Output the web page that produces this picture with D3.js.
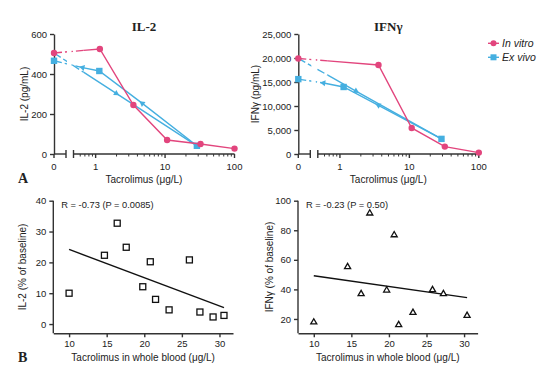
<!DOCTYPE html>
<html>
  <head>
    <meta charset="utf-8">
    <script src="https://d3js.org/d3.v7.min.js"></script>
    <style>
      body { margin: 0; background: white; }
      svg { display: block; }
      text { fill: #222; }
    </style>
  </head>
  <body>
    <svg id="chart" width="550" height="383"></svg>
  </body>
  <script>
    // ---- data (panel A) ----
    const vitroX_il2 = [0, 1.15, 3.5, 10.7, 32.4, 100];
    const vitroY_il2 = [505, 525, 245, 70, 50, 27];
    const exA_X_il2 = [0, 0.65, 1.13, 4.7, 28.7];
    const exA_Y_il2 = [466, 432, 415, 253, 41];
    const exA_shape = ["square", "tri", "square", "tri", "square"];
    const exB_X_il2 = [0, 1.98, 28.7];
    const exB_Y_il2 = [505, 303, 41];
    const exB_shape = ["none", "tri", "none"];

    const vitroX_ifn = [0, 3.59, 10.8, 32.4, 100];
    const vitroY_ifn = [19900, 18540, 5420, 1540, 290];
    const exA_X_ifn = [0, 0.58, 1.13, 3.59, 29];
    const exA_Y_ifn = [15600, 14800, 13960, 10150, 3150];
    const exB_X_ifn = [0, 1.7, 29];
    const exB_Y_ifn = [19900, 13100, 3150];

    const logTicks = [1, 10, 100];

    // ---- data (panel B) ----
    const bloodX_il2 = [10.0, 14.7, 16.4, 17.6, 19.8, 20.8, 21.5, 23.3, 26.0, 27.4, 29.15, 30.6];
    const pct_il2 = [10.0, 22.3, 32.7, 24.9, 12.1, 20.2, 8.0, 4.6, 20.8, 3.9, 2.3, 2.8];
    const bloodX_ifn = [10.0, 14.5, 16.3, 17.45, 19.7, 20.7, 21.3, 23.2, 25.8, 27.25, 30.4];
    const pct_ifn = [17.8, 55.2, 37.0, 91.5, 39.4, 76.8, 16.0, 24.3, 39.7, 37.0, 22.3];

    const pink = "#e2457d";
    const blue = "#45afe0";
    const axisCol = "#333";
    const sans = "Liberation Sans, Arial, sans-serif";
    const serif = "Liberation Serif, Times New Roman, serif";

    const svg = d3.select("#chart").style("font-family", sans);

    function styleAxis(g) {
      g.select(".domain").attr("stroke", axisCol).attr("stroke-width", 1.4);
      g.selectAll(".tick line").attr("stroke", axisCol).attr("stroke-width", 1.4);
      g.selectAll(".tick text").attr("font-size", 9.5).attr("fill", "#222").attr("font-family", sans);
    }

    // ---------- panel A (broken log axis) ----------
    function topPanel(ox, yMax, yStep, title, ylabel, vx, vy, ax, ay, bx, by, labelX) {
      const y0 = 154, yTop = 34;
      const y = d3.scaleLinear().domain([0, yMax]).range([y0, yTop]);
      const breakX = ox + 12, logStart = ox + 19.5;
      const xl = d3.scaleLog().domain([0.48, 100]).range([logStart, ox + 180.5]);
      const xs = v => v === 0 ? ox : xl(v);

      // y axis
      svg.append("g")
        .attr("transform", `translate(${ox},0)`)
        .call(d3.axisLeft(y).tickValues(d3.range(0, yMax + 1, yStep))
          .tickSize(4).tickSizeOuter(0).tickFormat(d3.format(",")))
        .call(styleAxis);

      // x axis: zero segment + break + log segment
      const xa = svg.append("g").attr("stroke", axisCol).attr("stroke-width", 1.4);
      xa.append("line").attr("x1", ox).attr("x2", breakX).attr("y1", y0).attr("y2", y0);
      xa.append("line").attr("x1", ox).attr("x2", ox).attr("y1", y0).attr("y2", y0 + 4);
      xa.append("line").attr("x1", breakX).attr("x2", breakX).attr("y1", y0 - 4).attr("y2", y0 + 4);
      xa.append("line").attr("x1", logStart).attr("x2", xl(100)).attr("y1", y0).attr("y2", y0);
      xa.append("line").attr("x1", logStart).attr("x2", logStart).attr("y1", y0 - 4).attr("y2", y0 + 4);
      const minor = [];
      [0.1, 1, 10].forEach(d => d3.range(2, 10).forEach(k => {
        const v = d * k;
        if (v > 0.5 && v < 100) minor.push(v);
      }));
      minor.forEach(v => xa.append("line").attr("x1", xl(v)).attr("x2", xl(v))
        .attr("y1", y0).attr("y2", y0 + 2.5).attr("stroke-width", 1));
      logTicks.forEach(v => xa.append("line").attr("x1", xl(v)).attr("x2", xl(v))
        .attr("y1", y0).attr("y2", y0 + 4));
      svg.append("text").attr("x", ox).attr("y", y0 + 16).attr("text-anchor", "middle")
        .attr("font-size", 9.5).text("0");
      logTicks.forEach(v => svg.append("text").attr("x", xl(v)).attr("y", y0 + 16)
        .attr("text-anchor", "middle").attr("font-size", 9.5).text(v));

      // clip that leaves a gap across the axis break
      const cid = "clip" + Math.round(ox);
      const cp = svg.append("clipPath").attr("id", cid);
      cp.append("rect").attr("x", 0).attr("y", 0).attr("width", breakX + 1).attr("height", 383);
      cp.append("rect").attr("x", logStart - 2).attr("y", 0).attr("width", 300).attr("height", 383);

      function series(xsArr, ysArr, shapes, col) {
        const pts = xsArr.map((v, i) => [xs(v), y(ysArr[i]), shapes[i]]);
        const line = d3.line();
        // segment leaving the zero point: dashed across the break, solid afterwards
        const a = pts[0], b = pts[1];
        const t = Math.min(1, (logStart + 10 - a[0]) / (b[0] - a[0]));
        const mid = [a[0] + (b[0] - a[0]) * t, a[1] + (b[1] - a[1]) * t];
        svg.append("path").attr("d", line([a, mid])).attr("fill", "none")
          .attr("stroke", col).attr("stroke-width", 1.4).attr("stroke-dasharray", "8,3")
          .attr("clip-path", `url(#${cid})`);
        svg.append("path").attr("d", line([mid].concat(pts.slice(1)))).attr("fill", "none")
          .attr("stroke", col).attr("stroke-width", 1.4);
        pts.forEach((p, i) => {
          if (p[2] === "circle") {
            svg.append("circle").attr("cx", p[0]).attr("cy", p[1]).attr("r", 3.2).attr("fill", col);
          } else if (p[2] === "square") {
            svg.append("rect").attr("x", p[0] - 3.2).attr("y", p[1] - 3.2)
              .attr("width", 6.4).attr("height", 6.4).attr("fill", col);
          } else if (p[2] === "tri" || p[2] === "triR") {
            const q = p[2] === "tri" ? pts[i - 1] : pts[i + 1];
            const ang = Math.atan2(q[1] - p[1], q[0] - p[0]) * 180 / Math.PI + 90;
            svg.append("path").attr("d", d3.symbol(d3.symbolTriangle, 16)())
              .attr("transform", `translate(${p[0]},${p[1]}) rotate(${ang})`).attr("fill", col);
          }
        });
      }

      series(bx, by, exB_shape.map(s => s === "tri" ? "triR" : s), blue);
      series(ax, ay, exA_shape, blue);
      series(vx, vy, vx.map(() => "circle"), pink);

      svg.append("text").attr("x", ox + 90).attr("y", 31).attr("text-anchor", "middle")
        .style("font-family", serif)
        .attr("font-weight", "bold").attr("font-size", 13).text(title);
      svg.append("text").attr("transform", `translate(${labelX},94) rotate(-90)`)
        .attr("text-anchor", "middle").attr("font-size", 10).text(ylabel);
      svg.append("text").attr("x", ox + 90).attr("y", 183).attr("text-anchor", "middle")
        .attr("font-size", 10).text("Tacrolimus (\u03bcg/L)");
    }

    topPanel(54, 600, 200, "IL-2", "IL-2 (pg/mL)",
      vitroX_il2, vitroY_il2, exA_X_il2, exA_Y_il2, exB_X_il2, exB_Y_il2, 28);
    topPanel(298.3, 25000, 5000, "IFN\u03b3", "IFN\u03b3 (pg/mL)",
      vitroX_ifn, vitroY_ifn, exA_X_ifn, exA_Y_ifn, exB_X_ifn, exB_Y_ifn, 259);

    // legend
    const legend = [["In vitro", pink, "circle"], ["Ex vivo", blue, "square"]];
    legend.forEach((d, i) => {
      const ly = 43.3 + i * 14;
      svg.append("line").attr("x1", 488).attr("x2", 499).attr("y1", ly).attr("y2", ly)
        .attr("stroke", d[1]).attr("stroke-width", 1.4);
      if (d[2] === "circle")
        svg.append("circle").attr("cx", 493.5).attr("cy", ly).attr("r", 3).attr("fill", d[1]);
      else
        svg.append("rect").attr("x", 490.5).attr("y", ly - 3).attr("width", 6).attr("height", 6).attr("fill", d[1]);
      svg.append("text").attr("x", 502).attr("y", ly + 3.8).attr("font-size", 10.5)
        .attr("font-style", "italic").text(d[0]);
    });

    // ---------- panel B (scatter + regression) ----------
    function regression(xs, ys) {
      const mx = d3.mean(xs), my = d3.mean(ys);
      let sxy = 0, sxx = 0;
      xs.forEach((v, i) => { sxy += (v - mx) * (ys[i] - my); sxx += (v - mx) * (v - mx); });
      const b = sxy / sxx;
      return v => my + b * (v - mx);
    }

    function bottomPanel(ox, xr, yDom, yTicks, xs, ys, marker, rText, ylabel, labelX) {
      const x = d3.scaleLinear().domain([7.9, 31.8]).range([ox, xr]);
      const y = d3.scaleLinear().domain(yDom).range([333.3, 200.7]);
      svg.append("g").attr("transform", `translate(0,333.3)`)
        .call(d3.axisBottom(x).tickValues([10, 15, 20, 25, 30]).tickSize(4).tickSizeOuter(0))
        .call(styleAxis);
      svg.append("g").attr("transform", `translate(${ox},0)`)
        .call(d3.axisLeft(y).tickValues(yTicks).tickSize(4).tickSizeOuter(0))
        .call(styleAxis)
        .call(g => g.select(".domain").attr("d", `M0,333.3V${y(yTicks[yTicks.length - 1])}`));

      const f = regression(xs, ys);
      const x0 = d3.min(xs), x1 = d3.max(xs);
      svg.append("line").attr("x1", x(x0)).attr("y1", y(f(x0)))
        .attr("x2", x(x1)).attr("y2", y(f(x1))).attr("stroke", "#111").attr("stroke-width", 1.4);

      xs.forEach((v, i) => {
        if (marker === "square") {
          svg.append("rect").attr("x", x(v) - 3).attr("y", y(ys[i]) - 3)
            .attr("width", 6).attr("height", 6).attr("fill", "white")
            .attr("stroke", "#111").attr("stroke-width", 1.3);
        } else {
          svg.append("path").attr("d", d3.symbol(d3.symbolTriangle, 16)())
            .attr("transform", `translate(${x(v)},${y(ys[i])})`)
            .attr("fill", "white").attr("stroke", "#111").attr("stroke-width", 1.3);
        }
      });

      svg.append("text").attr("x", ox + 8).attr("y", 208).attr("font-size", 9.3).text(rText);
      svg.append("text").attr("x", (ox + xr) / 2).attr("y", 361).attr("text-anchor", "middle")
        .attr("font-size", 10).text("Tacrolimus in whole blood (\u03bcg/L)");
      svg.append("text").attr("transform", `translate(${labelX},267) rotate(-90)`)
        .attr("text-anchor", "middle").attr("font-size", 10).text(ylabel);
    }

    bottomPanel(53.3, 233, [-3, 40], [0, 10, 20, 30, 40], bloodX_il2, pct_il2, "square",
      "R = -0.73 (P = 0.0085)", "IL-2 (% of baseline)", 26);
    bottomPanel(298, 477.6, [10.3, 100], [20, 40, 60, 80, 100], bloodX_ifn, pct_ifn, "tri",
      "R = -0.23 (P = 0.50)", "IFN\u03b3 (% of baseline)", 273);

    // panel letters
    [["A", 183], ["B", 362]].forEach(d => svg.append("text").attr("x", 18).attr("y", d[1])
      .style("font-family", serif)
      .attr("font-weight", "bold").attr("font-size", 14).text(d[0]));
  </script>
</html>
